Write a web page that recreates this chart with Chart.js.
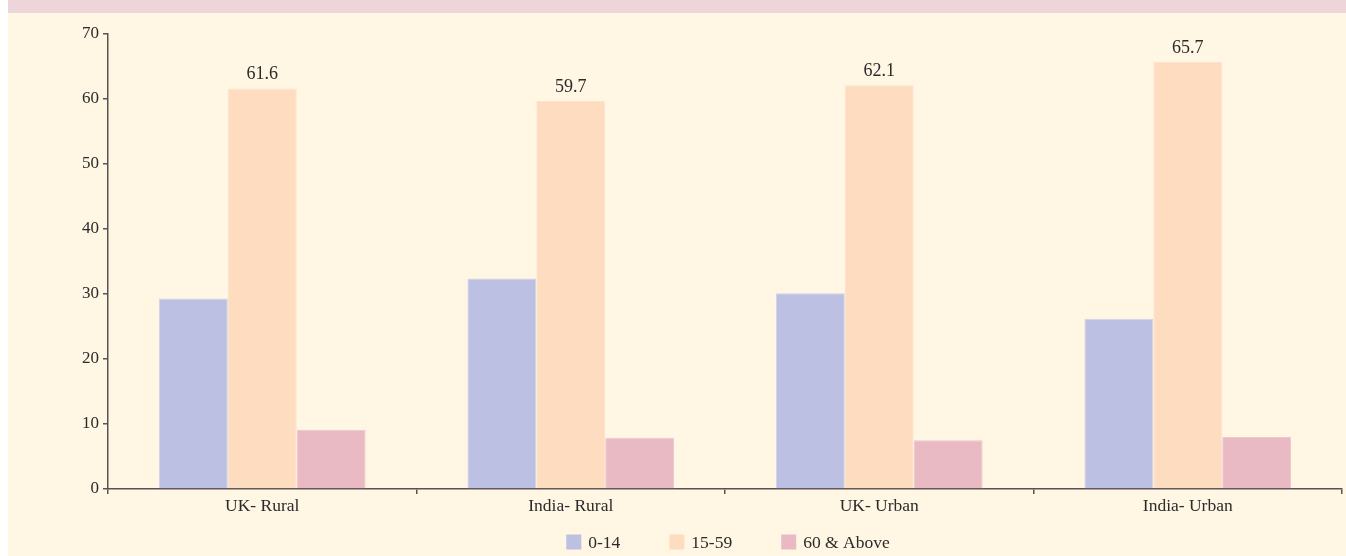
<!DOCTYPE html>
<html>
<head>
<meta charset="utf-8">
<script src="https://cdn.jsdelivr.net/npm/chart.js@4/dist/chart.umd.min.js"></script>
<style>
  html, body { margin: 0; padding: 0; background: #ffffff; width: 1346px; height: 556px; overflow: hidden; }
  #band { position: absolute; left: 8px; top: 0; width: 1338px; height: 13px; background: #EDD5DA; }
  #wrap { position: absolute; left: 8px; top: 13px; width: 1338px; height: 543px; background: #FFF6E3; }
  canvas { display: block; }
</style>
</head>
<body>
<div id="band"></div>
<div id="wrap"><canvas id="c" width="1338" height="543"></canvas></div>
<script>
const categories = ["UK- Rural", "India- Rural", "UK- Urban", "India- Urban"];
const seriesNames = ["0-14", "15-59", "60 & Above"];
const age0to14 = [29.3, 32.4, 30.1, 26.2];
const age15to59 = [61.6, 59.7, 62.1, 65.7];
const age60plus = [9.1, 7.9, 7.5, 8.0];
const yTicks = [0, 10, 20, 30, 40, 50, 60, 70];

const colors = ["#BCC0E2", "#FDDCC0", "#E9BAC4"];
const FONT = "'Liberation Serif', 'DejaVu Serif', serif";
const TEXT = "#2b2b2b";

const valueLabels = {
  id: "valueLabels",
  afterDatasetsDraw(chart) {
    const ctx = chart.ctx;
    const meta = chart.getDatasetMeta(1);
    ctx.save();
    ctx.font = "18px " + FONT;
    ctx.fillStyle = TEXT;
    ctx.textAlign = "center";
    ctx.textBaseline = "bottom";
    meta.data.forEach((bar, i) => {
      ctx.fillText(age15to59[i].toFixed(1), bar.x, bar.y - 5);
    });
    ctx.restore();
  }
};

const bottomLegend = {
  id: "bottomLegend",
  afterDraw(chart) {
    const ctx = chart.ctx;
    const box = 15, gap = 7, spacing = 49;
    ctx.save();
    ctx.font = "17.5px " + FONT;
    const items = chart.data.datasets.map(d => ({ text: d.label, color: d.backgroundColor, w: ctx.measureText(d.label).width }));
    let total = 0;
    items.forEach((it, i) => { total += box + gap + it.w + (i < items.length - 1 ? spacing : 0); });
    const ca = chart.chartArea;
    let x = (ca.left + ca.right) / 2 - total / 2 + 3;
    const cy = 529;
    ctx.textBaseline = "middle";
    ctx.textAlign = "left";
    items.forEach(it => {
      ctx.fillStyle = it.color;
      ctx.fillRect(x, cy - box / 2, box, box);
      ctx.fillStyle = TEXT;
      ctx.fillText(it.text, x + box + gap, cy + 1);
      x += box + gap + it.w + spacing;
    });
    ctx.restore();
  }
};

new Chart(document.getElementById("c"), {
  type: "bar",
  data: {
    labels: categories,
    datasets: [
      { label: seriesNames[0], data: age0to14, backgroundColor: colors[0], borderColor: "#D0D2EA", borderWidth: 1 },
      { label: seriesNames[1], data: age15to59, backgroundColor: colors[1], borderColor: "#FDE2CC", borderWidth: 1 },
      { label: seriesNames[2], data: age60plus, backgroundColor: colors[2], borderColor: "#EEC7CF", borderWidth: 1 }
    ]
  },
  options: {
    responsive: false,
    animation: false,
    devicePixelRatio: 1,
    layout: { padding: { top: 21, right: 4, left: 0, bottom: 37 } },
    datasets: { bar: { barPercentage: 1.0, categoryPercentage: 0.67 } },
    plugins: {
      tooltip: { enabled: false },
      legend: { display: false }
    },
    scales: {
      x: {
        afterFit(s) { s.height = 30; },
        border: { display: true, color: "#5a5252", width: 1.5 },
        grid: { display: true, drawOnChartArea: false, drawTicks: true, tickLength: 5, color: "#5a5252", lineWidth: 1.5, offset: true },
        ticks: { font: { family: FONT, size: 17.5 }, color: TEXT, padding: 2 }
      },
      y: {
        min: 0, max: 70,
        afterFit(s) { s.width = 100; },
        afterBuildTicks(s) { s.ticks = yTicks.map(v => ({ value: v })); },
        border: { display: true, color: "#5a5252", width: 1.5 },
        grid: { display: true, drawOnChartArea: false, drawTicks: true, tickLength: 5, color: "#5a5252", lineWidth: 1.5 },
        ticks: { font: { family: FONT, size: 17 }, color: TEXT, padding: 4 }
      }
    }
  },
  plugins: [valueLabels, bottomLegend]
});
</script>
</body>
</html>
